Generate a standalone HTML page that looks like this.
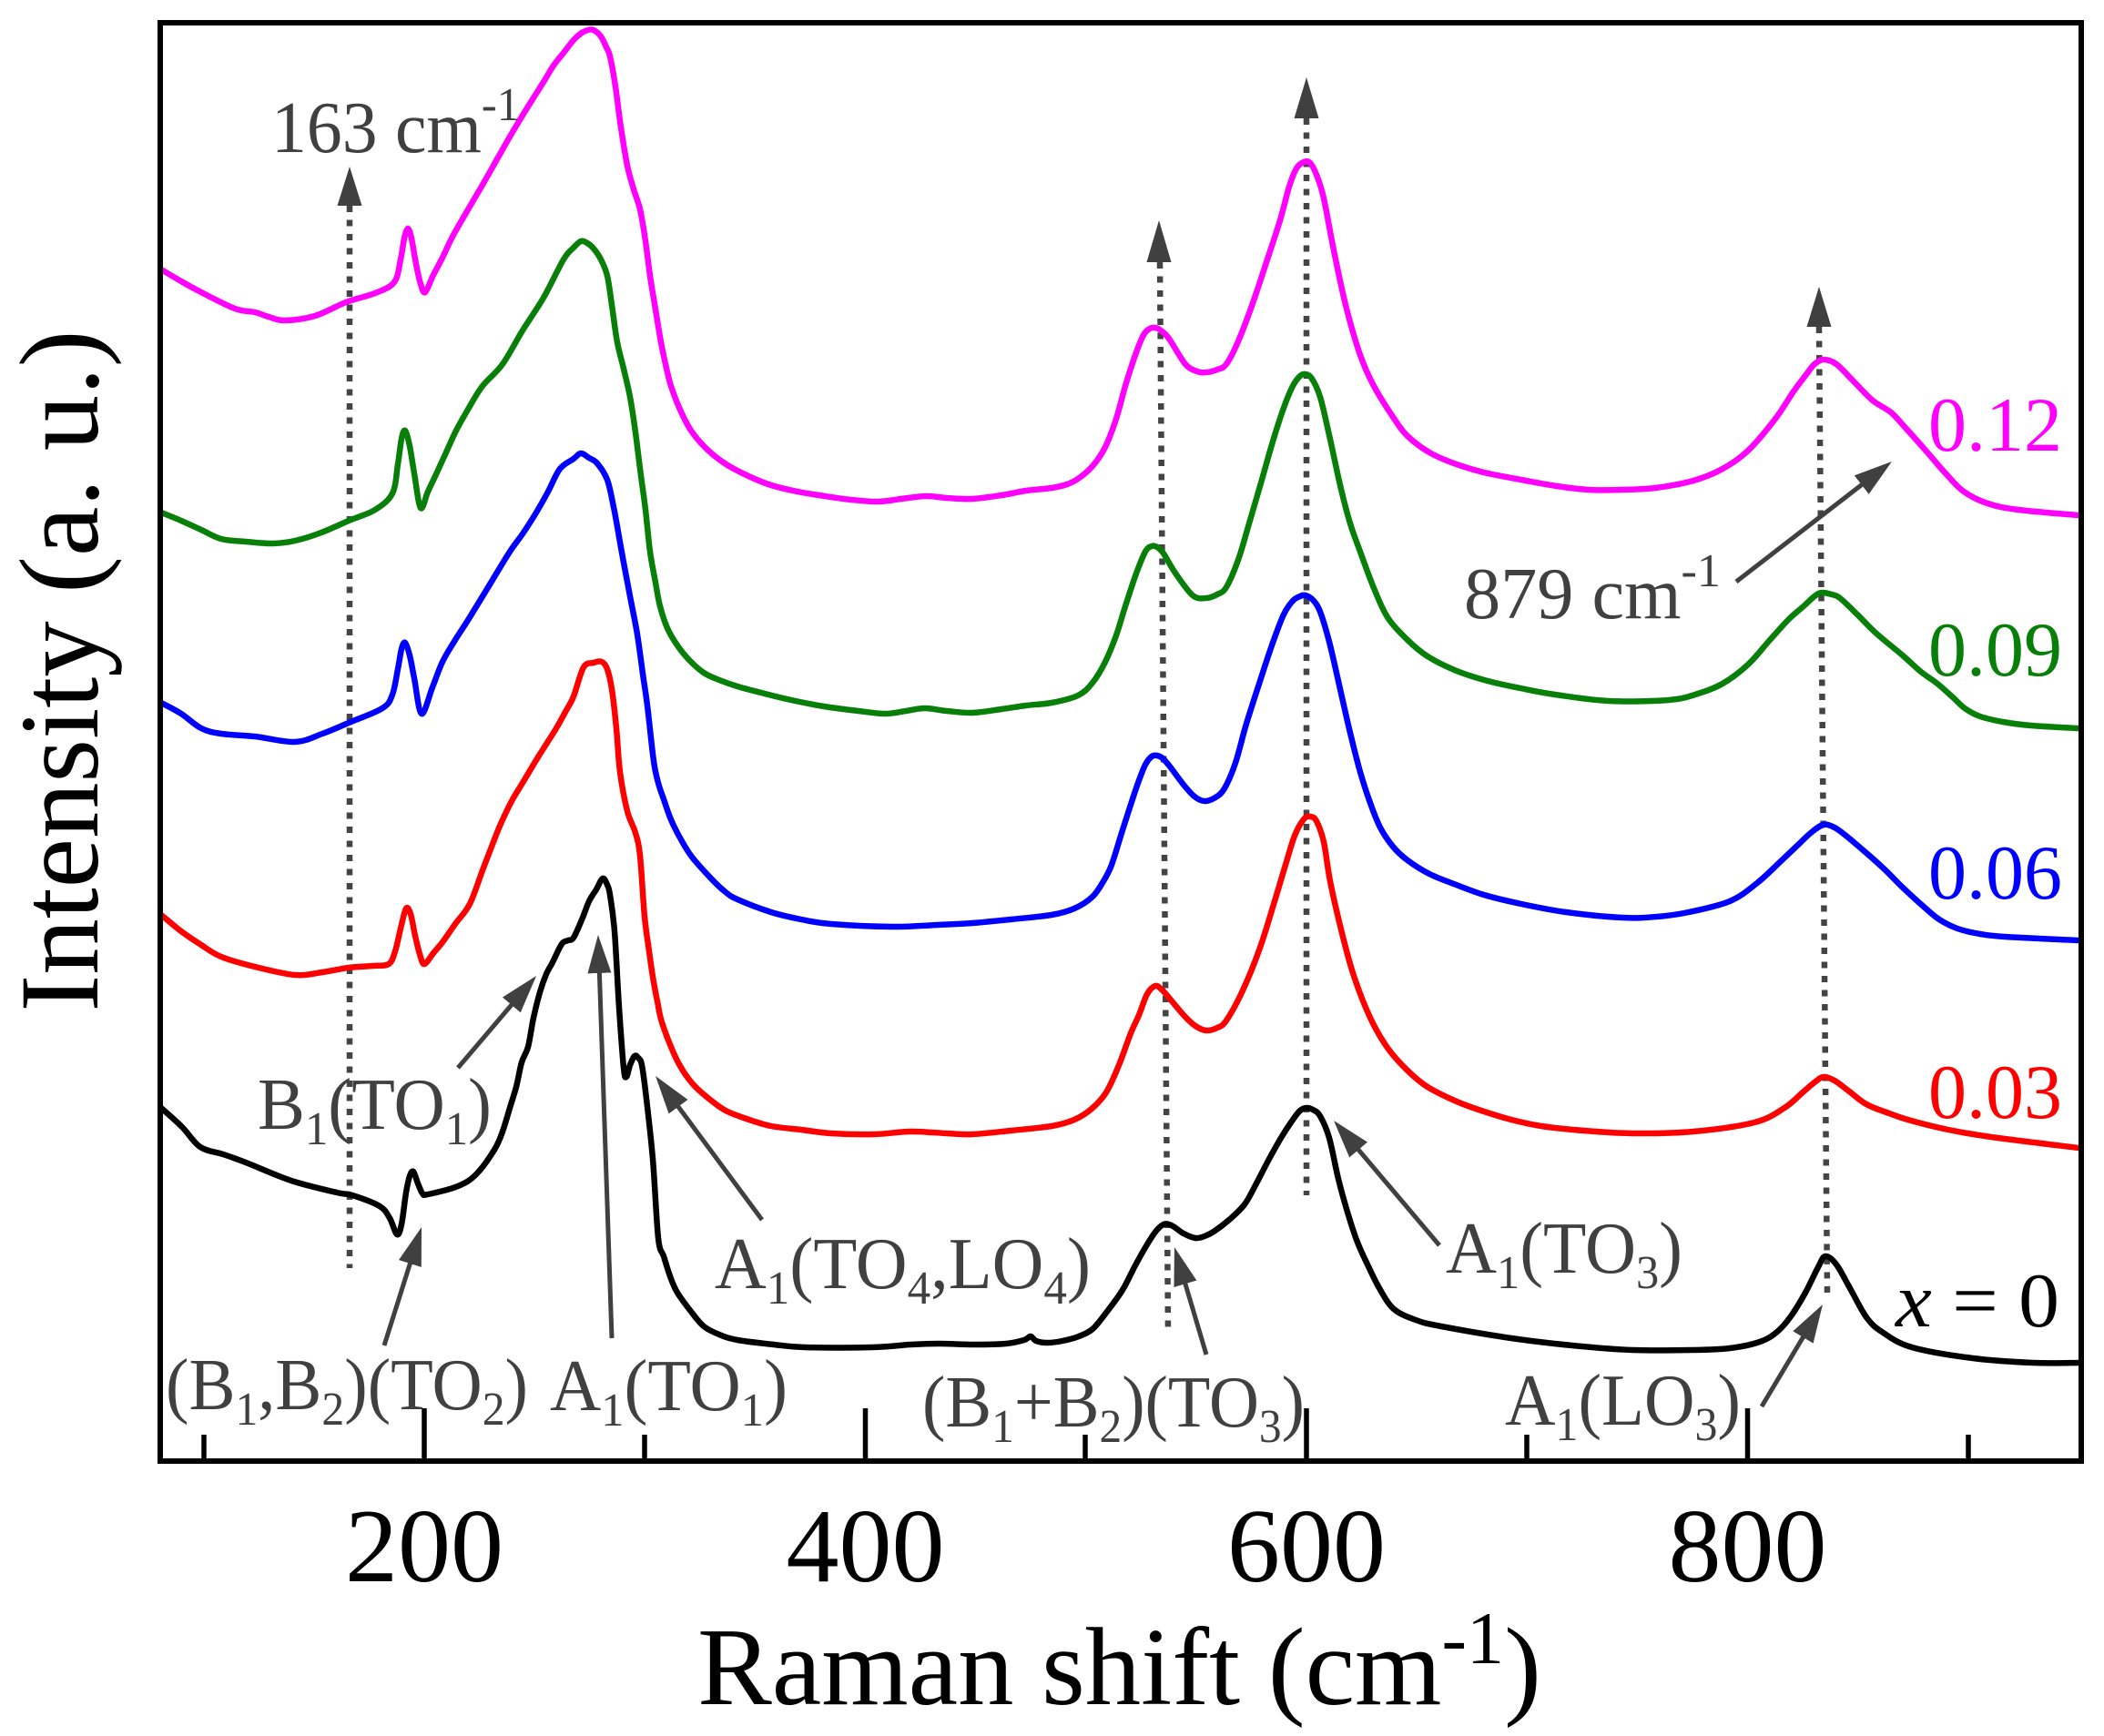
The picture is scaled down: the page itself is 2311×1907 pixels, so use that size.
<!DOCTYPE html>
<html>
<head>
<meta charset="utf-8">
<style>
html,body{margin:0;padding:0;background:#fff;}
svg{display:block;}
text{font-family:"Liberation Serif","Times New Roman",serif;}
.ann{fill:#404040;font-size:80px;}
.s{font-size:52px;}
.tick{font-size:116px;fill:#000;}
.curve{fill:none;stroke-width:6.5;stroke-linejoin:round;stroke-linecap:round;}
.dot{stroke:#444;stroke-width:6.5;stroke-dasharray:7 8.5;fill:none;}
.arr{stroke:#404040;stroke-width:5;fill:none;}
</style>
</head>
<body>
<svg id="chart" width="2311" height="1907" viewBox="0 0 2311 1907" xmlns="http://www.w3.org/2000/svg">
<defs>
<marker id="ah" markerUnits="userSpaceOnUse" viewBox="0 0 42 26" markerWidth="42" markerHeight="26" refX="12" refY="13" orient="auto">
<path d="M0,0 L42,13 L0,26 Z" fill="#404040"/>
</marker>
</defs>
<rect x="0" y="0" width="2311" height="1907" fill="#fff"/>

<!-- dotted guide lines -->
<line class="dot" x1="384" y1="226" x2="384" y2="1393"/>
<polygon points="384,183 370.5,226 397.5,226" fill="#404040"/>
<line class="dot" x1="1274" y1="288" x2="1283" y2="1465"/>
<polygon points="1273,242 1259.5,288 1286.5,288" fill="#404040"/>
<line class="dot" x1="1435" y1="130" x2="1435" y2="1313"/>
<polygon points="1435,85 1421.5,130 1448.5,130" fill="#404040"/>
<line class="dot" x1="1998" y1="359" x2="2007" y2="1420"/>
<polygon points="1998,315 1984.5,359 2011.5,359" fill="#404040"/>

<!-- curves -->
<polyline class="curve" stroke="#ff00ff" points="177,296 199,309 221,321 258,339 280,343 295,348 313,352 346,347 380,332 412,322 433,310 440,285 444,262 448,251 452,262 457,290 462,312 467,321 476,302 486,283 497,260 513,232 530,203 547,173 563,145 580,117 597,90 608,72 619,58 630,44 639,36 646,33 652,33 660,40 666,52 670,62 676,95 682,140 689,182 696,208 703,230 709,265 714,303 720,340 726,376 731,400 737,424 747,450 759,473 776,493 796,509 820,522 847,533 876,540 906,545 935,549 965,551 990,548 1017,545 1040,547 1068,548 1100,544 1127,539 1155,536 1172,532 1184,526 1200,512 1214,491 1226,460 1236,424 1247,390 1256,368 1263,361 1269,360 1275,363 1284,372 1302,400 1315,408 1325,409 1337,406 1347,400 1360,375 1376,333 1392,285 1406,242 1416,205 1424,185 1432,178 1439,179 1446,192 1454,218 1466,280 1479,339 1494,390 1509,424 1530,458 1546,479 1570,497 1597,509 1630,519 1671,527 1710,534 1745,538 1780,538 1818,536 1860,528 1892,515 1920,495 1950,460 1970,430 1985,410 1993,400 2003,395 2017,400 2037,420 2057,440 2077,453 2093,470 2117,497 2137,520 2157,540 2183,553 2217,560 2283,566"/>

<polyline class="curve" stroke="#087f08" points="177,563 199,572 221,582 243,592 270,595 300,597 324,594 353,585 383,572 412,560 431,542 437,510 441,482 445,473 450,490 455,520 462,558 470,540 479,521 490,497 501,473 515,448 530,424 552,400 574,363 597,327 619,285 630,272 638,265 645,267 652,273 660,285 667,303 672,335 678,376 685,405 692,436 698,475 703,515 709,560 714,606 720,640 725,666 733,690 744,709 757,725 773,739 790,747 810,754 840,762 869,769 905,776 943,781 972,784 995,781 1016,778 1040,781 1068,783 1100,779 1127,775 1155,772 1184,764 1200,750 1214,727 1226,698 1236,666 1248,630 1258,606 1265,600 1271,601 1278,608 1290,628 1310,654 1325,657 1337,653 1347,645 1360,615 1372,575 1386,527 1398,485 1410,448 1420,424 1428,413 1434,411 1441,416 1450,436 1460,478 1472,533 1483,575 1494,606 1509,646 1524,678 1545,702 1568,721 1600,737 1634,748 1670,756 1708,763 1767,770 1833,769 1865,762 1892,751 1920,730 1944,703 1965,680 1981,666 1993,655 2001,651 2012,653 2021,657 2040,675 2060,695 2091,721 2110,738 2128,751 2145,766 2158,778 2175,787 2200,793 2231,797 2283,800"/>

<polyline class="curve" stroke="#0000ff" points="177,772 199,784 221,800 243,806 280,809 324,815 354,806 383,794 420,778 431,763 437,735 441,713 445,706 450,720 455,745 463,784 475,755 486,727 500,703 516,678 538,642 560,606 575,585 589,563 602,540 615,515 630,504 638,498 647,503 656,509 667,527 674,557 680,590 685,618 692,655 700,697 706,740 711,775 718,836 723,860 729,878 736,898 744,915 759,940 781,965 797,980 810,988 847,1002 880,1010 913,1015 980,1018 1030,1016 1068,1014 1110,1010 1155,1005 1180,998 1200,985 1212,968 1221,950 1232,915 1240,890 1250,860 1258,840 1265,831 1271,830 1277,833 1285,842 1300,862 1312,875 1323,880 1335,876 1345,866 1357,838 1369,795 1385,745 1398,706 1410,675 1420,660 1428,655 1434,654 1442,659 1450,672 1460,705 1472,757 1483,805 1494,848 1505,882 1516,909 1530,930 1546,945 1570,960 1597,971 1630,983 1671,993 1720,1002 1782,1008 1820,1007 1855,1002 1900,990 1930,970 1955,947 1975,928 1990,914 2003,906 2015,909 2030,920 2050,937 2070,955 2090,975 2113,996 2130,1010 2150,1020 2175,1026 2202,1029 2283,1033"/>

<polyline class="curve" stroke="#ff0000" points="177,1005 199,1023 221,1038 243,1051 280,1062 324,1071 354,1068 383,1063 410,1061 427,1059 434,1045 440,1020 446,998 451,1004 456,1028 461,1048 466,1059 476,1047 486,1035 500,1015 516,993 530,956 540,930 550,905 562,880 574,860 592,830 611,800 621,782 630,765 641,733 652,728 661,727 667,735 672,757 677,800 681,848 689,891 698,915 703,940 708,1007 713,1045 717,1073 722,1100 727,1123 740,1157 750,1176 763,1193 780,1208 797,1220 820,1229 847,1237 880,1241 913,1245 960,1246 1000,1243 1040,1245 1068,1246 1110,1242 1155,1237 1180,1230 1199,1218 1215,1200 1229,1170 1242,1135 1251,1115 1260,1092 1269,1083 1276,1087 1284,1096 1300,1115 1313,1127 1325,1132 1337,1129 1347,1121 1365,1088 1384,1041 1400,990 1412,950 1422,918 1432,900 1439,897 1446,902 1454,925 1461,968 1474,1025 1487,1072 1505,1118 1524,1151 1545,1175 1568,1194 1600,1210 1627,1220 1660,1230 1693,1237 1740,1242 1793,1245 1860,1243 1927,1233 1960,1217 1980,1200 1993,1189 2003,1183 2015,1187 2030,1198 2050,1213 2075,1223 2099,1231 2140,1241 2187,1249 2283,1261"/>

<polyline class="curve" stroke="#000000" points="177,1217 200,1238 220,1260 245,1268 270,1277 320,1297 370,1310 387,1313 417,1325 428,1338 436,1356 441,1345 446,1310 450,1292 454,1287 459,1300 464,1311 470,1312 503,1303 523,1290 543,1263 552,1243 560,1217 567,1194 573,1167 580,1150 586,1118 593,1090 600,1070 607,1057 617,1037 624,1033 630,1030 640,1008 647,990 655,977 662,965 667,972 670,983 675,1023 680,1107 685,1173 688,1183 692,1170 697,1160 701,1162 705,1170 710,1207 717,1273 723,1360 729,1380 736,1402 744,1420 760,1442 773,1457 790,1466 810,1472 850,1477 884,1480 958,1480 1000,1477 1031,1476 1070,1477 1105,1476 1125,1472 1132,1468 1138,1473 1150,1475 1167,1473 1185,1468 1200,1460 1215,1442 1233,1417 1247,1390 1260,1367 1270,1352 1278,1345 1284,1345 1290,1348 1300,1355 1313,1360 1323,1358 1333,1353 1350,1340 1367,1323 1380,1300 1393,1275 1407,1250 1420,1230 1428,1220 1435,1217 1442,1219 1450,1226 1460,1250 1470,1295 1479,1328 1490,1362 1502,1389 1515,1415 1531,1438 1555,1450 1583,1457 1660,1470 1727,1478 1793,1483 1860,1483 1900,1481 1933,1474 1952,1463 1967,1446 1983,1420 1997,1392 2005,1380 2017,1389 2033,1417 2050,1447 2067,1463 2100,1480 2167,1492 2233,1497 2283,1497"/>

<!-- annotation arrows -->
<line class="arr" x1="503" y1="1173" x2="569.6" y2="1094.8" marker-end="url(#ah)"/>
<line class="arr" x1="422" y1="1478" x2="454" y2="1376.6" marker-end="url(#ah)"/>
<line class="arr" x1="672" y1="1470" x2="658" y2="1057" marker-end="url(#ah)"/>
<line class="arr" x1="837" y1="1340" x2="737.9" y2="1206.1" marker-end="url(#ah)"/>
<line class="arr" x1="1325" y1="1488" x2="1298.5" y2="1398.8" marker-end="url(#ah)"/>
<line class="arr" x1="1581" y1="1368" x2="1484.4" y2="1253.9" marker-end="url(#ah)"/>
<line class="arr" x1="1935" y1="1545" x2="1986.6" y2="1458.7" marker-end="url(#ah)"/>
<line class="arr" x1="1907" y1="639" x2="2054.2" y2="525.3" marker-end="url(#ah)"/>

<!-- annotation labels -->
<text class="ann" x="298" y="167" textLength="273" lengthAdjust="spacingAndGlyphs">163 cm<tspan class="s" dy="-35">-1</tspan></text>
<text class="ann" x="1608" y="679" textLength="282" lengthAdjust="spacingAndGlyphs">879 cm<tspan class="s" dy="-35">-1</tspan></text>
<text class="ann" x="283" y="1240" textLength="257" lengthAdjust="spacingAndGlyphs">B<tspan class="s" dy="17">1</tspan><tspan dy="-17">(TO</tspan><tspan class="s" dy="17">1</tspan><tspan dy="-17">)</tspan></text>
<text class="ann" x="182" y="1548" textLength="398" lengthAdjust="spacingAndGlyphs">(B<tspan class="s" dy="17">1</tspan><tspan dy="-17">,B</tspan><tspan class="s" dy="17">2</tspan><tspan dy="-17">)(TO</tspan><tspan class="s" dy="17">2</tspan><tspan dy="-17">)</tspan></text>
<text class="ann" x="604" y="1549" textLength="261" lengthAdjust="spacingAndGlyphs">A<tspan class="s" dy="17">1</tspan><tspan dy="-17">(TO</tspan><tspan class="s" dy="17">1</tspan><tspan dy="-17">)</tspan></text>
<text class="ann" x="785" y="1415" textLength="413" lengthAdjust="spacingAndGlyphs">A<tspan class="s" dy="17">1</tspan><tspan dy="-17">(TO</tspan><tspan class="s" dy="17">4</tspan><tspan dy="-17">,LO</tspan><tspan class="s" dy="17">4</tspan><tspan dy="-17">)</tspan></text>
<text class="ann" x="1013" y="1567" textLength="420" lengthAdjust="spacingAndGlyphs">(B<tspan class="s" dy="17">1</tspan><tspan dy="-17">+B</tspan><tspan class="s" dy="17">2</tspan><tspan dy="-17">)(TO</tspan><tspan class="s" dy="17">3</tspan><tspan dy="-17">)</tspan></text>
<text class="ann" x="1588" y="1398" textLength="260" lengthAdjust="spacingAndGlyphs">A<tspan class="s" dy="17">1</tspan><tspan dy="-17">(TO</tspan><tspan class="s" dy="17">3</tspan><tspan dy="-17">)</tspan></text>
<text class="ann" x="1653" y="1565" textLength="259" lengthAdjust="spacingAndGlyphs">A<tspan class="s" dy="17">1</tspan><tspan dy="-17">(LO</tspan><tspan class="s" dy="17">3</tspan><tspan dy="-17">)</tspan></text>

<!-- composition labels -->
<text x="2118" y="495" font-size="85" fill="#ff00ff" textLength="147" lengthAdjust="spacingAndGlyphs">0.12</text>
<text x="2118" y="742" font-size="85" fill="#087f08" textLength="147" lengthAdjust="spacingAndGlyphs">0.09</text>
<text x="2118" y="987" font-size="85" fill="#0000ff" textLength="147" lengthAdjust="spacingAndGlyphs">0.06</text>
<text x="2118" y="1228" font-size="85" fill="#ff0000" textLength="147" lengthAdjust="spacingAndGlyphs">0.03</text>
<text x="2082" y="1457" font-size="85" fill="#000" textLength="180" lengthAdjust="spacingAndGlyphs"><tspan font-style="italic">x</tspan> = 0</text>

<!-- frame -->
<rect x="176" y="25" width="2110" height="1580" fill="none" stroke="#000" stroke-width="6"/>

<!-- ticks -->
<g stroke="#000" stroke-width="5.5">
<line x1="466" y1="1605" x2="466" y2="1547"/>
<line x1="950.5" y1="1605" x2="950.5" y2="1547"/>
<line x1="1435" y1="1605" x2="1435" y2="1547"/>
<line x1="1919.5" y1="1605" x2="1919.5" y2="1547"/>
<line x1="224" y1="1605" x2="224" y2="1576"/>
<line x1="708" y1="1605" x2="708" y2="1576"/>
<line x1="1192" y1="1605" x2="1192" y2="1576"/>
<line x1="1677" y1="1605" x2="1677" y2="1576"/>
<line x1="2162" y1="1605" x2="2162" y2="1576"/>
</g>

<!-- tick labels -->
<text class="tick" x="466" y="1737" text-anchor="middle">200</text>
<text class="tick" x="950.5" y="1737" text-anchor="middle">400</text>
<text class="tick" x="1435" y="1737" text-anchor="middle">600</text>
<text class="tick" x="1919.5" y="1737" text-anchor="middle">800</text>

<!-- axis titles -->
<text x="766" y="1872" font-size="122" fill="#000" textLength="927" lengthAdjust="spacingAndGlyphs">Raman shift (cm<tspan font-size="82" dy="-45">-1</tspan><tspan dy="45">)</tspan></text>
<text transform="translate(107,737) rotate(-90)" x="0" y="0" text-anchor="middle" font-size="124" fill="#000" textLength="749" lengthAdjust="spacingAndGlyphs">Intensity (a. u.)</text>
</svg>
<script>
(function(){
  var ns="http://www.w3.org/2000/svg";
  var pls=document.querySelectorAll('polyline.curve');
  for(var k=0;k<pls.length;k++){
    var pl=pls[k];
    var raw=pl.getAttribute('points').trim().split(/\s+/);
    var p=[];
    for(var i=0;i<raw.length;i++){var a=raw[i].split(',');p.push([+a[0],+a[1]]);}
    var d='M'+p[0][0]+','+p[0][1];
    for(var i=0;i<p.length-1;i++){
      var p0=p[i-1]||p[i],p1=p[i],p2=p[i+1],p3=p[i+2]||p2;
      var c1x=p1[0]+(p2[0]-p0[0])/6,c1y=p1[1]+(p2[1]-p0[1])/6;
      var c2x=p2[0]-(p3[0]-p1[0])/6,c2y=p2[1]-(p3[1]-p1[1])/6;
      d+=' C'+c1x.toFixed(1)+','+c1y.toFixed(1)+' '+c2x.toFixed(1)+','+c2y.toFixed(1)+' '+p2[0]+','+p2[1];
    }
    var path=document.createElementNS(ns,'path');
    path.setAttribute('d',d);
    path.setAttribute('class','curve');
    path.setAttribute('stroke',pl.getAttribute('stroke'));
    pl.parentNode.replaceChild(path,pl);
  }
})();
</script>
</body>
</html>
